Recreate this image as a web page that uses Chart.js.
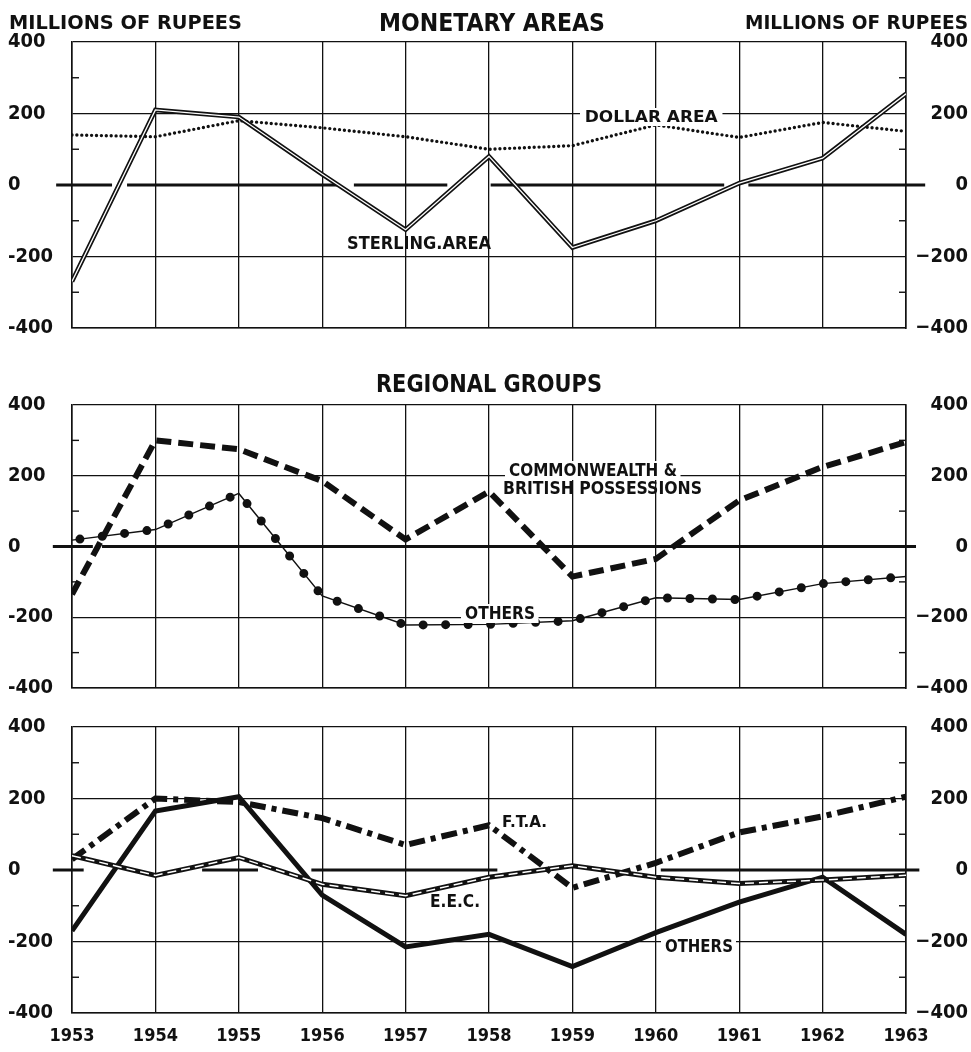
<!DOCTYPE html>
<html><head><meta charset="utf-8">
<script src="https://cdn.jsdelivr.net/npm/chart.js@4.4.0/dist/chart.umd.min.js"></script>
<style>
html,body{margin:0;padding:0;background:#fff;}
#wrap{position:relative;width:971px;height:1052px;overflow:hidden;background:#fff;font-family:"DejaVu Sans Condensed","DejaVu Sans",sans-serif;color:#111;}
canvas{position:absolute;left:0;}
.t{position:absolute;white-space:nowrap;line-height:1;transform-origin:left center;}
.bg{background:#fff;padding:1px 4px;margin-left:-4px;}
</style></head><body>
<div id="wrap">
<canvas id="c1" width="971" height="345" style="top:0px"></canvas>
<canvas id="c2" width="971" height="355" style="top:345px"></canvas>
<canvas id="c3" width="971" height="352" style="top:700px"></canvas>
</div>
<script>
// ---------- DATA ----------
const years = [1953, 1954, 1955, 1956, 1957, 1958, 1959, 1960, 1961, 1962, 1963];
const yTicks = [-400, -200, 0, 200, 400];
// Monetary areas
const sterlingArea = [-270, 210, 190, 30, -125, 80, -175, -100, 5, 75, 255];
const dollarArea   = [140, 135, 180, 160, 135, 100, 110, 168, 133, 175, 150];
// Regional groups
const commonwealth   = [-135, 300, 275, 185, 20, 155, -85, -35, 130, 225, 295];
const othersRegional = [18, 48, 150, -140, -222, -220, -210, -145, -150, -105, -85];
// Trade groups
const fta         = [30, 200, 190, 145, 70, 125, -50, 20, 105, 150, 205];
const eec         = [40, -15, 35, -40, -72, -20, 12, -20, -38, -28, -15];
const othersTrade = [-170, 165, 205, -70, -215, -180, -270, -175, -90, -20, -180];

// ---------- helpers ----------
const INK = '#111';
const xy = arr => arr.map((v, i) => ({x: years[i], y: v}));
const tickFont = {family: '"DejaVu Sans Condensed","DejaVu Sans",sans-serif', size: 20, weight: 'bold'};
const yearFont = {family: '"DejaVu Sans Condensed","DejaVu Sans",sans-serif', size: 18, weight: 'bold'};

const framePlugin = {
  id: 'frame',
  beforeDatasetsDraw(chart, args, opts) {
    const ctx = chart.ctx, x = chart.scales.x, y = chart.scales.y;
    const a = chart.chartArea;
    ctx.save();
    // zero line (thick, broken)
    ctx.strokeStyle = INK; ctx.lineWidth = 3; ctx.lineCap = 'butt';
    const y0 = y.getPixelForValue(0);
    (opts.zeroSegs || []).forEach(s => {
      ctx.beginPath();
      ctx.moveTo(x.getPixelForValue(s[0]), y0);
      ctx.lineTo(x.getPixelForValue(s[1]), y0);
      ctx.stroke();
    });
    // minor ticks on left & right borders
    ctx.lineWidth = 1.4;
    [-300, -100, 100, 300].forEach(v => {
      const py = y.getPixelForValue(v);
      ctx.beginPath(); ctx.moveTo(a.left, py); ctx.lineTo(a.left + 7, py); ctx.stroke();
      ctx.beginPath(); ctx.moveTo(a.right, py); ctx.lineTo(a.right - 7, py); ctx.stroke();
    });
    ctx.restore();
  }
};

function build(id, datasets, o) {
  return new Chart(document.getElementById(id), {
    type: 'line',
    data: {datasets},
    options: {
      responsive: false, animation: false, devicePixelRatio: 1,
      layout: {padding: {left: 8, right: 3, top: o.top, bottom: o.bottom}},
      elements: {point: {radius: 0}, line: {tension: 0}},
      plugins: {legend: {display: false}, tooltip: {enabled: false}, frame: {zeroSegs: o.zeroSegs}},
      scales: {
        x: {
          type: 'linear', min: 1953, max: 1963,
          afterBuildTicks: s => { s.ticks = years.map(v => ({value: v})); },
          grid: {color: INK, lineWidth: 1.3, drawTicks: false},
          border: {display: true, color: INK, width: 1.6},
          ticks: {display: o.xLabels, padding: 13, color: INK, font: yearFont, maxRotation: 0, callback: v => String(v)},
          afterFit: s => { s.height = o.xh; }
        },
        y: {
          position: 'left', min: -400, max: 400,
          afterBuildTicks: s => { s.ticks = yTicks.map(v => ({value: v})); },
          grid: {drawTicks: false, lineWidth: 1.3,
                 color: c => (c.tick && c.tick.value === 0) ? 'rgba(0,0,0,0)' : INK},
          border: {display: true, color: INK, width: 1.6},
          ticks: {crossAlign: 'far', padding: 0, color: INK, font: tickFont,
                  callback: v => v < 0 ? '-' + Math.abs(v) : String(v)},
          afterFit: s => { s.width = 64; }
        },
        y2: {
          position: 'right', min: -400, max: 400,
          afterBuildTicks: s => { s.ticks = yTicks.map(v => ({value: v})); },
          grid: {display: false, drawTicks: false},
          border: {display: true, color: INK, width: 1.6},
          ticks: {crossAlign: 'far', padding: 0, color: INK, font: tickFont,
                  callback: v => v < 0 ? '\u2212' + Math.abs(v) : String(v)},
          afterFit: s => { s.width = 62; }
        }
      }
    },
    plugins: [framePlugin]
  });
}

// ---------- Panel 1 : Monetary areas ----------
build('c1', [
  {data: xy(sterlingArea), borderColor: '#fff', borderWidth: 1.3, order: 0},
  {data: xy(sterlingArea), borderColor: INK, borderWidth: 4.6, order: 1},
  {data: xy(dollarArea), borderColor: INK, borderWidth: 3.4, borderDash: [0, 4.9], borderCapStyle: 'round', order: 2}
], {top: 42, bottom: 17, xh: 0, xLabels: false,
    zeroSegs: [[1952.81, 1953.48], [1953.66, 1956.19], [1956.38, 1957.5], [1958.02, 1960.82], [1961.11, 1963.23]]});

// ---------- Panel 2 : Regional groups ----------
build('c2', [
  {data: xy(othersRegional), borderColor: INK, borderWidth: 9, borderDash: [0, 22.5], borderDashOffset: -8, borderCapStyle: 'round', order: 0},
  {data: xy(othersRegional), borderColor: INK, borderWidth: 1.4, order: 1},
  {data: xy(commonwealth), borderColor: INK, borderWidth: 6, borderDash: [15, 7], order: 2}
], {top: 60, bottom: 10, xh: 0, xLabels: false,
    zeroSegs: [[1952.77, 1953.25], [1953.36, 1963.12]]});

// ---------- Panel 3 : Trade groups ----------
build('c3', [
  {data: xy(eec), borderColor: '#fff', borderWidth: 1.5, borderDash: [9, 5], order: 0},
  {data: xy(eec), borderColor: INK, borderWidth: 5, order: 1},
  {data: xy(fta), borderColor: INK, borderWidth: 6, borderDash: [16, 6, 5, 6], order: 2},
  {data: xy(othersTrade), borderColor: INK, borderWidth: 5, borderJoinStyle: 'miter', order: 3}
], {top: 27, bottom: 0, xh: 39, xLabels: true,
    zeroSegs: [[1952.77, 1953.14], [1954.56, 1955.23], [1955.87, 1958.1], [1960.06, 1963.16]]});

// ---------- Text (real text, fitted to width) ----------
const wrap = document.getElementById('wrap');
function addText(str, left, cy, width, size, weight, bg) {
  const el = document.createElement('div');
  el.className = 't' + (bg ? ' bg' : '');
  el.textContent = str;
  el.style.fontSize = size + 'px';
  el.style.fontWeight = weight;
  el.style.left = left + 'px';
  el.style.top = (cy - size * 0.5 - (bg ? 1 : 0)) + 'px';
  wrap.appendChild(el);
  const pad = bg ? 8 : 0;
  const w = el.getBoundingClientRect().width - pad;
  const k = width / w;
  el.style.transform = 'scaleX(' + k + ')';
  return el;
}
addText('MILLIONS OF RUPEES', 9, 22, 233, 20, 'bold');
addText('MONETARY AREAS', 379, 22, 226, 25, 'bold');
addText('MILLIONS OF RUPEES', 745, 22, 223, 20, 'bold');
addText('REGIONAL GROUPS', 376, 383, 226, 25, 'bold');

addText('DOLLAR AREA', 584, 117, 133, 16, 'bold', true);
addText('STERLING.AREA', 347, 243, 144, 17, 'bold');
addText('COMMONWEALTH &', 509, 470, 168, 17, 'bold', true);
addText('BRITISH POSSESSIONS', 503, 488, 199, 17, 'bold');
addText('OTHERS', 465, 613, 70, 17, 'bold', true);
addText('F.T.A.', 502, 822, 45, 16, 'bold');
addText('E.E.C.', 430, 901, 50, 17, 'bold');
addText('OTHERS', 665, 946, 68, 17, 'bold', true);
</script>
</body></html>
